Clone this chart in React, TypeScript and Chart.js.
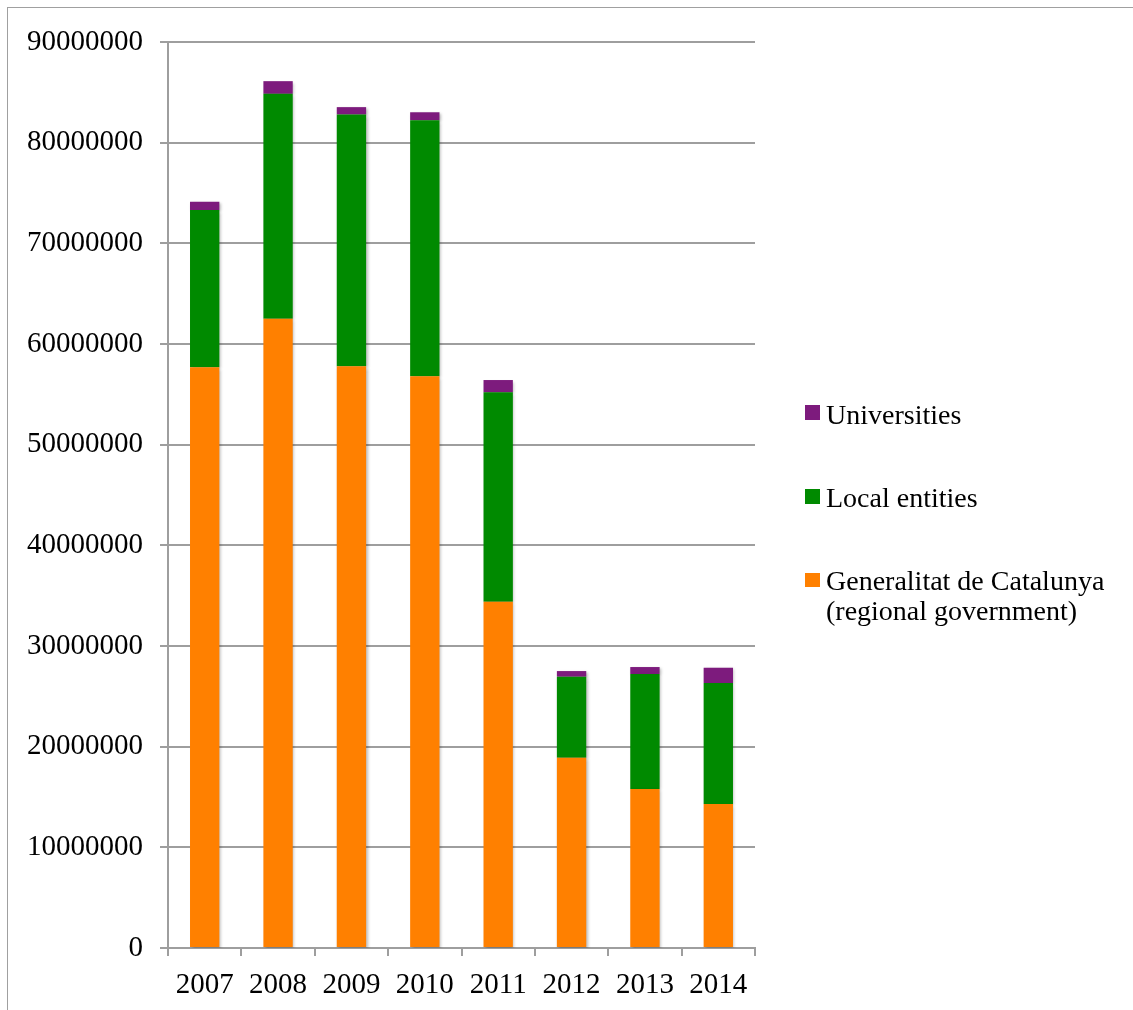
import React, { useEffect, useRef } from "react";
import { Chart, registerables } from "chart.js";

Chart.register(...registerables);

const years = ["2007", "2008", "2009", "2010", "2011", "2012", "2013", "2014"];
const generalitat = [57700000, 62500000, 57800000, 56800000, 34400000, 18900000, 15800000, 14300000];
const localEntities = [15600000, 22350000, 25000000, 25430000, 20800000, 8050000, 11420000, 12020000];
const universities = [830000, 1260000, 730000, 790000, 1220000, 560000, 690000, 1520000];

const seriesNames = ["Generalitat de Catalunya (regional government)", "Local entities", "Universities"];
const seriesColors = ["#FF8000", "#008A00", "#7D1B7D"];

const FONT = "'Liberation Serif', 'Times New Roman', serif";

const shadowPlugin = {
  id: "barShadow",
  beforeDatasetsDraw(chart: any) {
    const ctx = chart.ctx;
    ctx.save();
    ctx.shadowColor = "rgba(0,0,0,0.28)";
    ctx.shadowBlur = 3;
    ctx.shadowOffsetX = 1.5;
    ctx.shadowOffsetY = 1.5;
  },
  afterDatasetsDraw(chart: any) {
    chart.ctx.restore();
  },
};

export default function App() {
  const ref = useRef<HTMLCanvasElement | null>(null);

  useEffect(() => {
    if (!ref.current) return;
    const grid = "#9e9e9e";
    const chart = new Chart(ref.current, {
      type: "bar",
      data: {
        labels: years,
        datasets: [
          { label: seriesNames[0], data: generalitat, backgroundColor: seriesColors[0] },
          { label: seriesNames[1], data: localEntities, backgroundColor: seriesColors[1] },
          { label: seriesNames[2], data: universities, backgroundColor: seriesColors[2] },
        ],
      },
      options: {
        animation: false,
        responsive: false,
        maintainAspectRatio: false,
        datasets: { bar: { barPercentage: 0.8, categoryPercentage: 0.5 } },
        layout: { padding: { left: 0, top: 42, right: 378, bottom: 0 } },
        plugins: { legend: { display: false }, tooltip: { enabled: false } },
        scales: {
          x: {
            stacked: true,
            grid: { offset: true, drawOnChartArea: false, drawTicks: true, tickLength: 8, color: grid, lineWidth: 2 },
            border: { display: true, color: grid, width: 2 },
            ticks: { color: "#000", font: { family: FONT, size: 29 }, padding: 12 },
            afterFit(scale: any) {
              scale.height = 62;
            },
          },
          y: {
            stacked: true,
            min: 0,
            max: 90000000,
            grid: { color: grid, lineWidth: 2, tickLength: 8 },
            border: { display: true, color: grid, width: 2 },
            ticks: {
              stepSize: 10000000,
              color: "#000",
              font: { family: FONT, size: 29 },
              padding: 17,
              callback: (v: any) => String(v),
            },
            afterFit(scale: any) {
              scale.width = 168;
            },
          },
        },
      },
      plugins: [shadowPlugin],
    } as any);
    return () => chart.destroy();
  }, []);

  const legendItems = [
    { name: "Universities", lines: ["Universities"], color: seriesColors[2], sqTop: 405, textTop: 400 },
    { name: "Local entities", lines: ["Local entities"], color: seriesColors[1], sqTop: 489, textTop: 483 },
    {
      name: seriesNames[0],
      lines: ["Generalitat de Catalunya", "(regional government)"],
      color: seriesColors[0],
      sqTop: 572.5,
      textTop: 566,
    },
  ];

  return (
    <div style={{ position: "fixed", left: 0, top: 0, width: 1133, height: 1010, background: "#fff", overflow: "hidden" }}>
      <div
        style={{
          position: "absolute",
          left: 7,
          top: 7,
          width: 1140,
          height: 1020,
          borderTop: "1.5px solid #a0a0a0",
          borderLeft: "1.5px solid #a0a0a0",
        }}
      />
      <canvas ref={ref} width={1133} height={1010} style={{ position: "absolute", left: 0, top: 0, width: 1133, height: 1010 }} />
      {legendItems.map((it) => (
        <React.Fragment key={it.name}>
          <div style={{ position: "absolute", left: 805, top: it.sqTop, width: 15, height: 14.5, background: it.color }} />
          <div
            style={{
              position: "absolute",
              left: 826,
              top: it.textTop,
              font: `28px ${FONT}`,
              lineHeight: "30px",
              color: "#000",
              whiteSpace: "nowrap",
            }}
          >
            {it.lines.map((l, i) => (
              <div key={i}>{l}</div>
            ))}
          </div>
        </React.Fragment>
      ))}
    </div>
  );
}
